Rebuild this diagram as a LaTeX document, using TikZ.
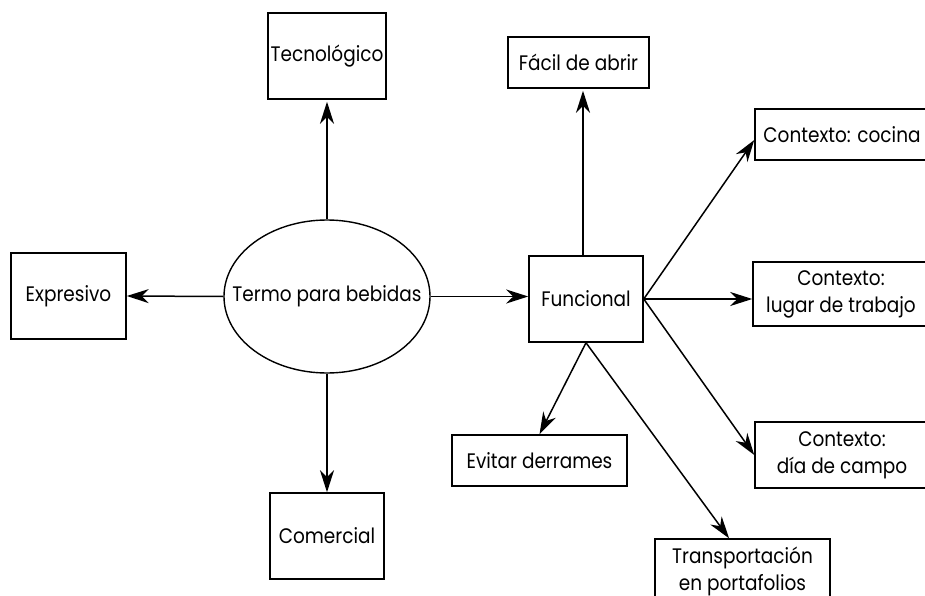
\documentclass[tikz,border=0pt]{standalone}
\usepackage{fontspec}
\setmainfont{Poppins}[FakeStretch=0.88]
\usetikzlibrary{arrows.meta,shapes.geometric}
\begin{document}
\begin{tikzpicture}[x=1pt,y=-1pt,
  every node/.style={font=\fontsize{21}{27}\selectfont, align=center, inner sep=0pt},
  box/.style={draw, line width=1.5pt, rectangle},
  oval/.style={draw, line width=1.4pt, ellipse, inner xsep=-24pt},
  arr/.style={line width=1.5pt, -{Stealth[length=22pt,width=14pt,inset=7pt]}},
  thick arr/.style={arr, line width=2.4pt}]
\useasboundingbox (0,0) rectangle (925,596);

% central concept and its four aspects
\node[oval, minimum width=206, minimum height=153] (termo) at (327,296.5) {Termo para bebidas};
\node[box, minimum width=118, minimum height=86] (tec) at (327,56) {Tecnológico};
\node[box, minimum width=115, minimum height=86] (exp) at (68.5,296) {Expresivo};
\node[box, minimum width=114, minimum height=86] (com) at (327,536) {Comercial};
\node[box, minimum width=114, minimum height=86] (fun) at (586,299) {Funcional};

% functional aspects
\node[box, minimum width=141, minimum height=51] (fac) at (578.5,62.5) {Fácil de abrir};
\node[box, minimum width=174, minimum height=51] (coc) at (842,134.5) {Contexto: cocina};
\node[box, minimum width=176, minimum height=64] (lug) at (841,294) {Contexto:\\lugar de trabajo};
\node[box, minimum width=174, minimum height=66] (dia) at (842,455) {Contexto:\\día de campo};
\node[box, minimum width=175, minimum height=51] (evi) at (539.5,460.5) {Evitar derrames};
\node[box, minimum width=175, minimum height=64] (tra) at (742.5,571) {Transportación\\en portafolios};

% connectors
\draw[arr] (termo.north) -- ([yshift=-2pt]tec.south);
\draw[arr] (termo.west) -- (exp.east);
\draw[thick arr] (termo.south) -- (com.north);
\draw[arr] (termo.east) -- (termo.east -| fun.west);
\draw[arr] ([xshift=-3pt]fun.north) -- ([xshift=-3pt,yshift=-2pt]fun.north |- fac.south);
\draw[arr] (fun.east) -- ([yshift=-5.5pt]coc.west);
\draw[arr] (fun.east) -- (fun.east -| lug.west);
\draw[arr] (fun.east) -- (dia.west);
\draw[arr] (fun.south) -- (evi.north);
\draw[arr] (fun.south) -- ([xshift=-13.5pt]tra.north);
\end{tikzpicture}
\end{document}
